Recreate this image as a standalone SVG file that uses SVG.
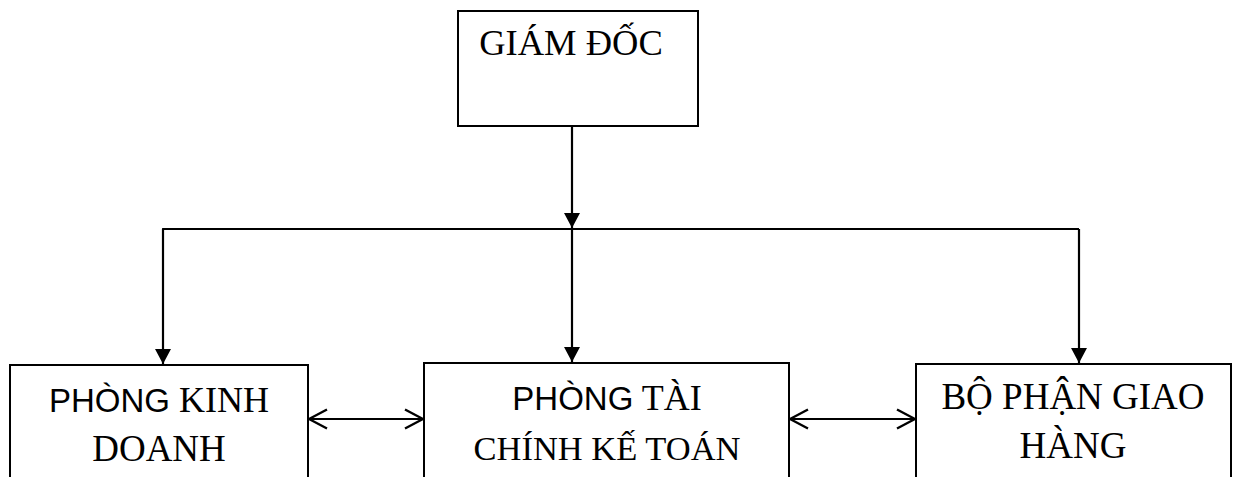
<svg xmlns="http://www.w3.org/2000/svg" width="1234" height="477" viewBox="0 0 1234 477">
  <style>
    .box { fill: #fff; stroke: #000; stroke-width: 2; }
    .label { font-family: "Liberation Serif", "Times New Roman", serif; font-size: 36px; fill: #000; text-anchor: middle; }
    .sans { font-family: "Liberation Sans", Arial, sans-serif; font-size: 33px; }
    .wire { fill: none; stroke: #000; stroke-width: 2.2; }
    .hub { fill: none; stroke: #000; stroke-width: 1.8; }
  </style>
  <defs>
    <!-- filled head, drawn along +x so orient="auto" follows the line -->
    <marker id="solid" markerUnits="userSpaceOnUse" viewBox="0 0 15 16" refX="15" refY="8" markerWidth="15" markerHeight="16" orient="auto">
      <path d="M0,0 L15,8 L0,16 Z" fill="#000"/>
    </marker>
    <!-- open chevron head for the two-way links -->
    <marker id="open" markerUnits="userSpaceOnUse" viewBox="0 0 20 22" refX="19" refY="11" markerWidth="20" markerHeight="22" orient="auto-start-reverse">
      <path d="M1,1.5 L19,11 L1,20.5" fill="none" stroke="#000" stroke-width="2.4"/>
    </marker>
  </defs>

  <rect width="1234" height="477" fill="#fff"/>

  <!-- connectors -->
  <g id="connectors">
    <line class="wire" x1="572" y1="126" x2="572" y2="228" marker-end="url(#solid)"/>
    <polyline class="hub" points="163,236 163,229 1079,229"/>
    <line class="wire" x1="163" y1="229" x2="163" y2="364" marker-end="url(#solid)"/>
    <line class="wire" x1="572" y1="229" x2="572" y2="362" marker-end="url(#solid)"/>
    <line class="wire" x1="1079" y1="229" x2="1079" y2="363" marker-end="url(#solid)"/>
    <line class="wire" x1="309" y1="419" x2="423" y2="419" marker-start="url(#open)" marker-end="url(#open)"/>
    <line class="wire" x1="790" y1="419" x2="915" y2="419" marker-start="url(#open)" marker-end="url(#open)"/>
  </g>

  <g id="giam-doc">
    <rect class="box" x="458" y="11" width="240" height="115"/>
    <text class="label" x="571" y="55" style="font-size:36.5px">GIÁM ĐỐC</text>
  </g>

  <g id="phong-kinh-doanh">
    <rect class="box" x="10" y="365" width="298" height="130"/>
    <text class="label" x="159" y="412"><tspan class="sans">PHÒNG</tspan> KINH</text>
    <text class="label" x="159" y="461" style="font-size:37px">DOANH</text>
  </g>

  <g id="phong-tai-chinh">
    <rect class="box" x="424" y="363" width="365" height="130"/>
    <text class="label" x="607" y="410"><tspan class="sans">PHÒNG</tspan> TÀI</text>
    <text class="label" x="607" y="460" style="font-size:34.5px">CHÍNH KẾ TOÁN</text>
  </g>

  <g id="bo-phan-giao-hang">
    <rect class="box" x="916" y="364" width="315" height="130"/>
    <text class="label" x="1073" y="409" style="font-size:37px">BỘ PHẬN GIAO</text>
    <text class="label" x="1073" y="458" style="font-size:37px">HÀNG</text>
  </g>
</svg>
